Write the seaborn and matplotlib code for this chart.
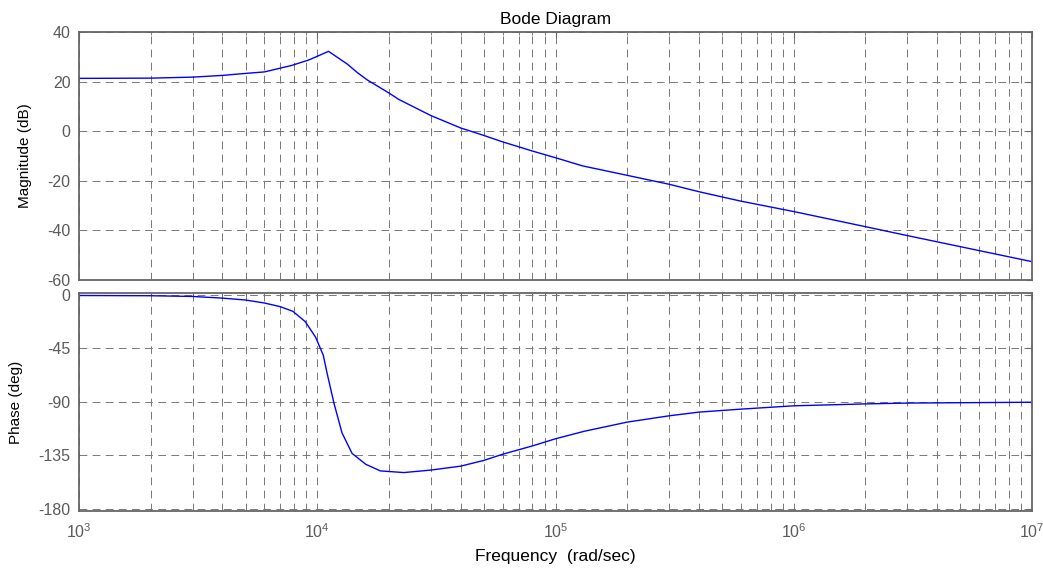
import matplotlib
matplotlib.use("Agg")
import matplotlib.pyplot as plt
import seaborn as sns
import numpy as np
import pandas as pd
from matplotlib.ticker import LogLocator, FixedLocator, NullFormatter, LogFormatterMathtext

# ---- data ----
freq_mag = [1e3, 2e3, 3e3, 4e3, 5e3, 6e3, 7.8e3, 9.2e3, 1e4, 1.115e4, 1.34e4,
            1.47e4, 1.62e4, 2e4, 2.2e4, 3e4, 4e4, 5e4, 6e4, 8e4, 1e5, 1.3e5, 2e5,
            3e5, 4e5, 5e5, 6e5, 1e6, 2e6, 3e6, 1e7]
magnitude_db = [21.3, 21.4, 21.8, 22.5, 23.3, 23.9, 26.5, 28.7, 30.2, 32.2, 27.0,
                23.7, 20.7, 15.4, 12.8, 6.3, 1.3, -1.7, -4.3, -8.0, -10.7, -14.0, -17.8,
                -21.4, -24.4, -26.5, -28.2, -32.4, -38.5, -42.1, -52.6]

freq_phase = [1e3, 2e3, 3e3, 4e3, 5e3, 6e3, 7e3, 7.9e3, 8.9e3, 9.84e3, 1.06e4,
              1.1e4, 1.175e4, 1.27e4, 1.4e4, 1.6e4, 1.84e4, 2.31e4, 3e4, 4e4,
              5e4, 6e4, 8e4, 1e5, 1.32e5, 2e5, 3e5, 4e5, 6e5, 1e6, 2e6, 3e6, 1e7]
phase_deg = [-0.6, -0.8, -1.4, -2.8, -4.4, -6.9, -10.0, -13.9, -22.5, -35.6, -50.8,
             -66.0, -91.0, -116.0, -133.3, -142.5, -148.0, -149.4, -147.3, -144.0,
             -139.2, -134.0, -127.0, -121.0, -114.7, -107.0, -101.7, -98.6, -96.1,
             -93.3, -91.7, -91.0, -90.3]

mag_ticks = [-60, -40, -20, 0, 20, 40]
phase_ticks = [-180, -135, -90, -45, 0]

title_text = "Bode Diagram"
mag_label = "Magnitude (dB)"
phase_label = "Phase (deg)"
x_label = "Frequency  (rad/sec)"

# ---- styling ----
sns.set_style("white")
plt.rcParams["font.family"] = ["Liberation Sans", "DejaVu Sans"]
plt.rcParams["mathtext.default"] = "regular"

axis_grey = "#666666"
grid_grey = "#777777"
dash = (0, (8, 5.5))

fig = plt.figure(figsize=(10.43, 5.68), dpi=100)
ax1 = fig.add_axes([79 / 1043, 1 - 280 / 568, (1032 - 79) / 1043, (280 - 32) / 568])
ax2 = fig.add_axes([79 / 1043, 1 - 511 / 568, (1032 - 79) / 1043, (511 - 293) / 568])

df_mag = pd.DataFrame({"freq": freq_mag, "mag": magnitude_db})
df_ph = pd.DataFrame({"freq": freq_phase, "phase": phase_deg})

sns.lineplot(data=df_mag, x="freq", y="mag", ax=ax1, color="#0000ff", linewidth=1.0,
             estimator=None, sort=False)
sns.lineplot(data=df_ph, x="freq", y="phase", ax=ax2, color="#0000ff", linewidth=1.0,
             estimator=None, sort=False)

for ax in (ax1, ax2):
    ax.set_xscale("log")
    ax.set_xlim(1e3, 1e7)
    ax.xaxis.set_major_locator(LogLocator(base=10, numticks=10))
    ax.xaxis.set_minor_locator(LogLocator(base=10, subs=np.arange(2, 10), numticks=100))
    ax.xaxis.set_minor_formatter(NullFormatter())
    ax.grid(True, which="major", axis="both", linestyle=dash, color=grid_grey,
            linewidth=0.7)
    ax.grid(True, which="minor", axis="x", linestyle=dash, color=grid_grey,
            linewidth=0.7)
    for sp in ax.spines.values():
        sp.set_visible(True)
        sp.set_color(axis_grey)
        sp.set_linewidth(1.3)
    ax.tick_params(axis="both", which="both", direction="in", top=True, right=True,
                   colors=axis_grey, labelcolor="#5a5a5a", labelsize=11.5)
    ax.tick_params(which="major", length=4)
    ax.tick_params(which="minor", length=2.5)
    ax.tick_params(axis="y", which="major", pad=6)
    ax.set_axisbelow(True)

ax1.set_ylim(-60, 40)
ax1.yaxis.set_major_locator(FixedLocator(mag_ticks))
ax1.set_yticklabels([str(t) for t in mag_ticks])
ax1.tick_params(axis="x", which="both", labelbottom=False)
ax1.set_xlabel("")
ax1.set_ylabel(mag_label, fontsize=11, color="black", labelpad=11)
ax1.set_title(title_text, fontsize=12.5, color="black", pad=6)

ax2.set_ylim(-181.7, 1.5)
ax2.yaxis.set_major_locator(FixedLocator(phase_ticks))
ax2.set_yticklabels([str(t) for t in phase_ticks])
ax2.xaxis.set_major_formatter(LogFormatterMathtext())
ax2.tick_params(axis="x", which="major", pad=8)
ax2.set_ylabel(phase_label, fontsize=11, color="black", labelpad=11)
ax2.set_xlabel(x_label, fontsize=12.5, color="black", labelpad=6)

fig.savefig("out.png", dpi=100)
